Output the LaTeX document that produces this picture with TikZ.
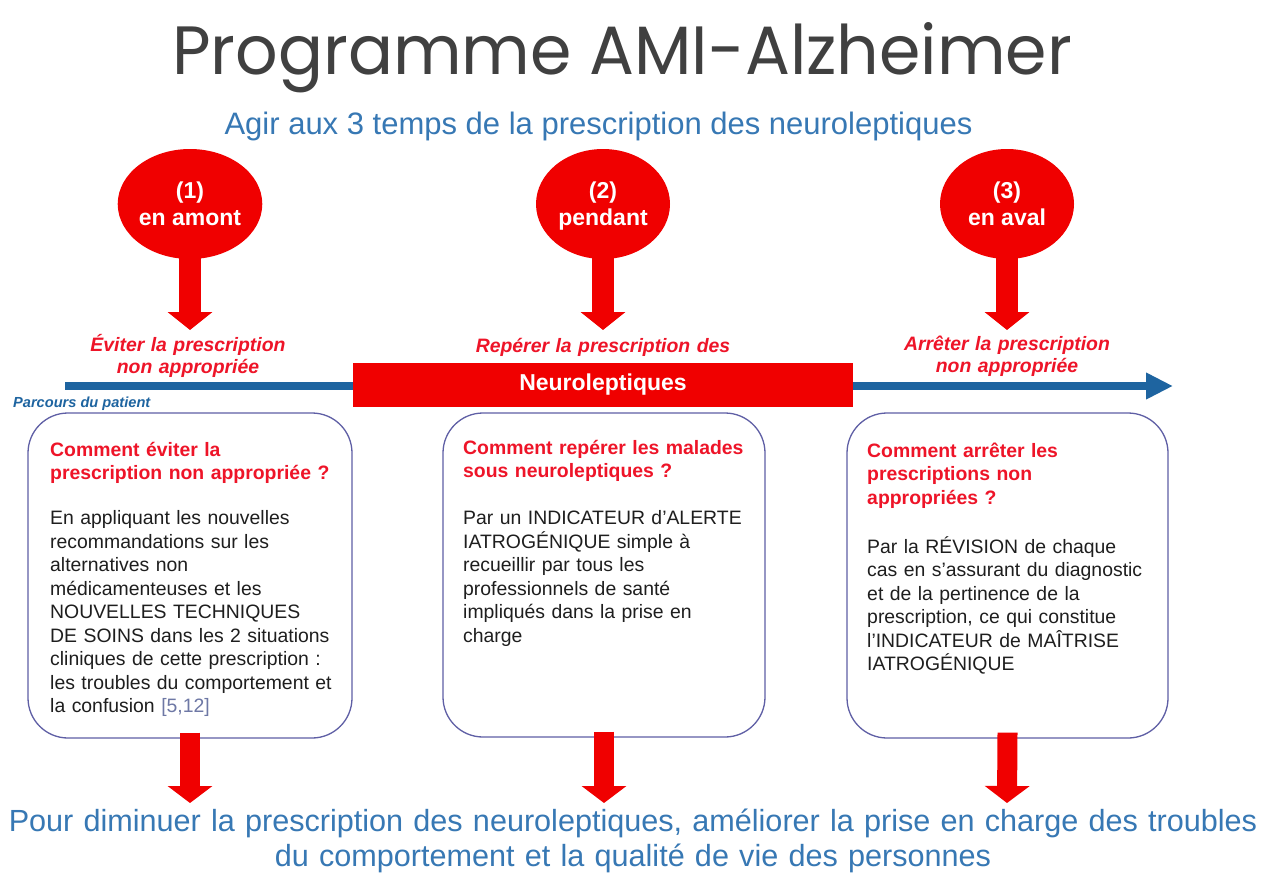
\documentclass[tikz,border=0pt]{standalone}
\usepackage{fontspec}
\setmainfont{Liberation Sans}
\newfontfamily\titlefont{Poppins}
\usepackage{graphicx}
\usetikzlibrary{arrows.meta,shapes.geometric}

\definecolor{myred}{RGB}{240,0,0}
\definecolor{headred}{RGB}{238,20,40}
\definecolor{lineblue}{RGB}{30,100,160}
\definecolor{txtblue}{RGB}{55,120,180}
\definecolor{boxborder}{RGB}{95,95,165}
\definecolor{bodytxt}{RGB}{30,30,30}
\definecolor{refcol}{RGB}{110,120,165}
\definecolor{titlecol}{RGB}{64,64,64}

\begin{document}
\begin{tikzpicture}[x=1pt,y=-1pt,
  phase/.style={ellipse, fill=myred, minimum width=134pt, minimum height=110pt, inner sep=0pt,
    text=white, font=\fontsize{23}{27}\selectfont\bfseries, align=center},
  downarrow/.style={myred, line width=22pt, -{Triangle[width=44pt,length=18pt]}},
  outarrow/.style={myred, line width=20pt, -{Triangle[width=44pt,length=17pt]}},
  steplabel/.style={text=headred, font=\fontsize{19.4}{22.5}\selectfont\bfseries\itshape,
    align=center, text width=280pt, anchor=base, inner sep=0pt},
  infobox/.style={draw=boxborder, line width=1.3pt, rounded corners=40pt, fill=white},
  boxtext/.style={anchor=base west, inner sep=0pt, text width=310pt, align=left,
    font=\fontsize{19.4}{23.5}\selectfont, text=bodytxt},
  ]
\useasboundingbox[fill=white] (0,0) rectangle (1265,873);

% title and subtitle
\node[anchor=base, inner sep=0pt, text=titlecol] (title) at (622,74)
  {\resizebox{900pt}{52pt}{\titlefont Programme AMI-Alzheimer}};
\node[anchor=base, inner sep=0pt, text=txtblue, font=\fontsize{31}{35}\selectfont] (sub) at (598.5,134)
  {Agir aux 3 temps de la prescription des neuroleptiques};

% phases
\node[phase] (c1) at (190,204) {(1)\\en amont};
\node[phase] (c2) at (603,204) {(2)\\\raisebox{0pt}[\height][0pt]{pendant}};
\node[phase] (c3) at (1007,204) {(3)\\en aval};

\coordinate (a1) at (190,330);
\coordinate (a2) at (603,330);
\coordinate (a3) at (1007,330);
\draw[downarrow] ([yshift=6pt]c1.south) -- (a1);
\draw[downarrow] ([yshift=6pt]c2.south) -- (a2);
\draw[downarrow] ([yshift=6pt]c3.south) -- (a3);

% labels
\node[steplabel] (l1) at (188,351) {Éviter la prescription\\non appropriée};
\node[steplabel] (l2) at (603,352) {Repérer la prescription des};
\node[steplabel] (l3) at (1007,350) {Arrêter la prescription\\non appropriée};

% timeline
\coordinate (tlstart) at (65,386);
\coordinate (tlend) at (1173,386);
\draw[lineblue, line width=8pt, -{Triangle[width=25pt,length=27pt]}] (tlstart) -- (tlend);
\node[fill=myred, minimum width=500pt, minimum height=44pt, inner sep=0pt, text=white,
  font=\fontsize{23}{27}\selectfont\bfseries] (neuro) at (603,385) {Neuroleptiques};
\node[anchor=base west, inner sep=0pt, text=lineblue,
  font=\fontsize{14.6}{16}\selectfont\bfseries\itshape] (parcours) at (13,407) {Parcours du patient};

% boxes
\node[infobox, minimum width=324pt, minimum height=325pt] (b1) at (190,575.5) {};
\node[infobox, minimum width=322pt, minimum height=324pt] (b2) at (604,575) {};
\node[infobox, minimum width=321pt, minimum height=325pt] (b3) at (1007.5,575.5) {};

\node[boxtext] (t1) at (50,456) {{\color{headred}\bfseries Comment éviter la\\prescription non appropriée ?}\\[21.5pt]
En appliquant les nouvelles\\
recommandations sur les\\
alternatives non\\
médicamenteuses et les\\
NOUVELLES TECHNIQUES\\
DE SOINS dans les 2 situations\\
cliniques de cette prescription :\\
les troubles du comportement et\\
la confusion \textcolor{refcol}{[5,12]}};

\node[boxtext] (t2) at (463,454) {{\color{headred}\bfseries Comment repérer les malades\\sous neuroleptiques ?}\\[23.5pt]
Par un INDICATEUR d'ALERTE\\
IATROGÉNIQUE simple à\\
recueillir par tous les\\
professionnels de santé\\
impliqués dans la prise en\\
charge};

\node[boxtext] (t3) at (867,457) {{\color{headred}\bfseries Comment arrêter les\\prescriptions non\\appropriées ?}\\[25.5pt]
Par la RÉVISION de chaque\\
cas en s'assurant du diagnostic\\
et de la pertinence de la\\
prescription, ce qui constitue\\
l'INDICATEUR de MAÎTRISE\\
IATROGÉNIQUE};

% outgoing arrows
\coordinate (o1) at (190,803);
\coordinate (o2) at (604,803);
\coordinate (o3) at (1007,803);
\draw[outarrow] ([yshift=6pt]b1.south) -- (o1);
\draw[outarrow] ([yshift=6pt]b2.south) -- (o2);
\draw[outarrow] ([yshift=6pt]b3.south) -- (o3);

% conclusion
\node[anchor=base, inner sep=0pt, text=txtblue, font=\fontsize{30.6}{35}\selectfont,
  align=center, text width=1265pt] (concl) at (633,831)
  {Pour diminuer la prescription des neuroleptiques, améliorer la prise en charge des troubles\\
   du comportement et la qualité de vie des personnes};
\end{tikzpicture}
\end{document}
